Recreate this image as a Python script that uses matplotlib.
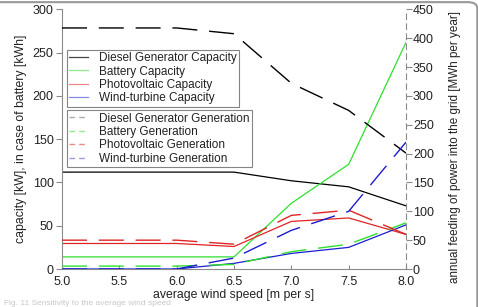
import matplotlib
matplotlib.use("Agg")
import matplotlib.pyplot as plt
from matplotlib.lines import Line2D
from matplotlib.patches import FancyBboxPatch

plt.rcParams['font.family'] = ['Liberation Sans', 'DejaVu Sans']

# average wind speed [m per s]
wind_speed = [5.0, 5.5, 6.0, 6.5, 7.0, 7.5, 8.0]

# capacities (left axis) [kW], battery in [kWh]
diesel_cap = [112, 112, 112, 112, 102, 95, 73]
battery_cap = [14, 14, 14, 14, 76, 121, 262]
pv_cap = [29.5, 29.5, 29.5, 26, 55, 59, 40]
wind_cap = [0, 0, 0, 6.5, 18, 25, 51]

# annual generation fed into the grid (right axis) [MWh per year]
diesel_gen = [418, 418, 418, 408, 322, 275, 201]
battery_gen = [5, 5, 5, 8, 30, 43, 80]
pv_gen = [50, 50, 50, 43, 93, 102, 60]
wind_gen = [0, 0, 0, 19, 67, 100, 220]

cap_labels = ["Diesel Generator Capacity", "Battery Capacity",
              "Photovoltaic Capacity", "Wind-turbine Capacity"]
gen_labels = ["Diesel Generator Generation", "Battery Generation",
              "Photovoltaic Generation", "Wind-turbine Generation"]

colors = ["black", "#2ee02e", "#e02424", "#1c1cd0"]
pale_cap = ["#444444", "#8fe88f", "#ee8888", "#8888e8"]
pale_gen = ["#aaaaaa", "#8fe88f", "#ee8888", "#9a9ae8"]
axis_grey = "#8a8a8a"
text_col = "#222222"

fig = plt.figure(figsize=(4.78, 3.07), dpi=100)
ax = fig.add_axes([62 / 478, 1 - 269 / 307, 344 / 478, 259.5 / 307])
ax2 = ax.twinx()

for vals, c in zip([diesel_cap, battery_cap, pv_cap, wind_cap], colors):
    ax.plot(wind_speed, vals, color=c, lw=0.9)
for vals, c in zip([diesel_gen, battery_gen, pv_gen, wind_gen], colors):
    ax2.plot(wind_speed, vals, color=c, lw=1.0, dashes=(18, 8.5))

ax.set_xlim(5.0, 8.0)
ax.set_ylim(0, 300)
ax2.set_ylim(0, 450)
ax.set_xticks([5.0, 5.5, 6.0, 6.5, 7.0, 7.5, 8.0])
ax.set_yticks([0, 50, 100, 150, 200, 250, 300])
ax2.set_yticks([0, 50, 100, 150, 200, 250, 300, 350, 400, 450])

for a in (ax, ax2):
    a.patch.set_visible(False)
    a.spines['top'].set_visible(False)
ax.spines['right'].set_visible(False)
ax2.spines['left'].set_visible(False)
ax2.spines['bottom'].set_visible(False)
ax.spines['left'].set_color(axis_grey)
ax.spines['bottom'].set_color(axis_grey)
ax2.spines['right'].set_color(axis_grey)
ax2.spines['right'].set_linestyle((0, (5, 4)))

ax.tick_params(axis='y', direction='out', length=4, width=0.8, color=axis_grey,
               labelsize=9, labelcolor=text_col, pad=2)
ax.tick_params(axis='x', direction='in', length=3, width=0.8, color=axis_grey,
               labelsize=9, labelcolor=text_col, pad=5)
ax2.tick_params(axis='y', direction='out', length=4, width=0.8, color=axis_grey,
                labelsize=9, labelcolor=text_col, pad=1)

ax.set_xlabel("average wind speed [m per s]", fontsize=8.8, color=text_col, labelpad=1)
ax.set_ylabel("capacity [kW], in case of battery [kWh]", fontsize=8.8,
              color=text_col, labelpad=4)
ax2.set_ylabel("annual feeding of power into the grid [MWh per year]", fontsize=8.4,
               color=text_col, rotation=90, labelpad=9)
ax2.yaxis.set_label_coords(1.125, 0.47)

# legends
cap_handles = [Line2D([], [], color=c, lw=0.9) for c in pale_cap]
gen_handles = [Line2D([], [], color=c, lw=1.0, dashes=(4, 3)) for c in pale_gen]
leg_kw = dict(fontsize=8.5, frameon=True, fancybox=False, borderpad=0.2,
              labelspacing=0.12, handlelength=1.6, handletextpad=0.9,
              borderaxespad=0)
leg1 = ax.legend(cap_handles, cap_labels, loc='upper left',
                 bbox_to_anchor=(0.014, 0.845), **leg_kw)
leg2 = ax2.legend(gen_handles, gen_labels, loc='upper left',
                  bbox_to_anchor=(0.014, 0.612), **leg_kw)
for lg in (leg1, leg2):
    lg.get_frame().set_edgecolor("#666666")
    lg.get_frame().set_linewidth(0.8)
    for t in lg.get_texts():
        t.set_color(text_col)

# rounded page frame and faded caption
frame = FancyBboxPatch((-0.05, -0.2), 1.0485, 1.193, boxstyle="round,pad=0,rounding_size=0.02",
                       transform=fig.transFigure, facecolor='none',
                       edgecolor="#999999", lw=1.5, zorder=10)
fig.patches.append(frame)
fig.text(0.008, 0.022, "Fig. 11 Sensitivity to the average wind speed",
         fontsize=6, color="#c8c8c8", va='top', ha='left')

fig.savefig("out.png", dpi=100)
